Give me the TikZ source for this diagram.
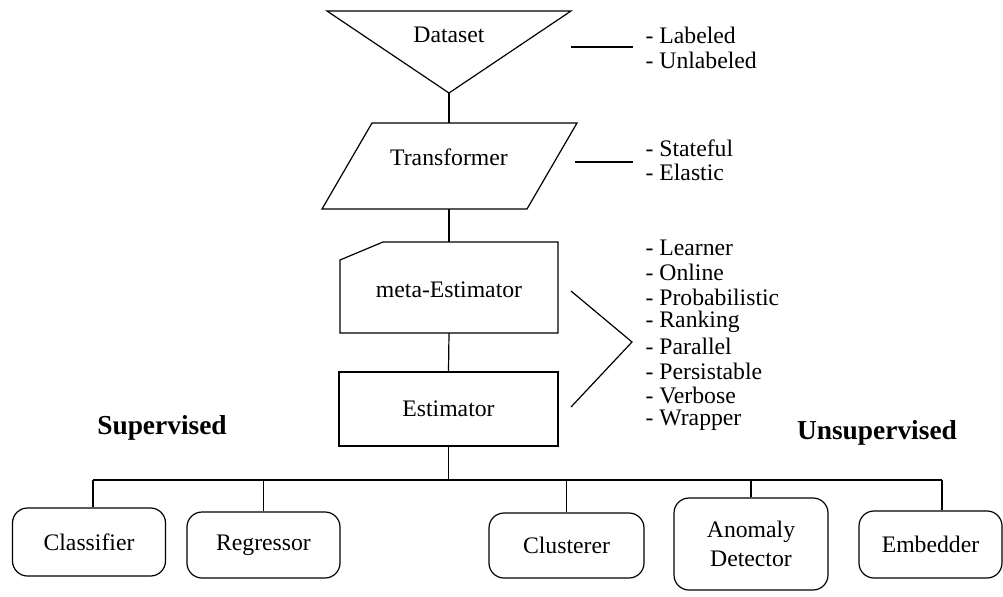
\documentclass[tikz,border=0pt]{standalone}
\usepackage{fontspec}
\setmainfont{Liberation Serif}
\usetikzlibrary{positioning}

\tikzset{
    every node/.style={font=\fontsize{11.85}{14.2}\selectfont},
    leaf/.style={draw, rounded corners=7.5pt, align=center, inner sep=0pt,
        minimum width=77pt, minimum height=33pt},
    estbox/.style={draw, inner sep=0pt, minimum width=109.5pt, minimum height=37pt},
    grouplabel/.style={font=\fontsize{13.7}{16}\selectfont\bfseries},
    item/.style={anchor=west, inner sep=0pt}
}

\begin{document}
\begin{tikzpicture}[x=0.5pt,y=-0.5pt,line width=0.6pt]
    \useasboundingbox (0,0) rectangle (1003,596);

    % dataset
    \draw (327,11) -- (571,11) -- (449,93) -- cycle;
    \coordinate (dsapex) at (449,93);
    \node (dataset) at (449,35) {Dataset};
    \coordinate (dsa) at (571,47);
    \coordinate (dsb) at (633,47);
    \draw (dsa) -- (dsb);
    \node[item] (lab) at (645,35) {- Labeled};
    \node[item] (unlab) at (645,60) {- Unlabeled};

    % transformer
    \draw (372,123) -- (577,123) -- (527,209) -- (322,209) -- cycle;
    \coordinate (trtop) at (449,123);
    \coordinate (trbot) at (449,209);
    \node (transformer) at (449,157) {Transformer};
    \coordinate (tra) at (575,162);
    \coordinate (trb) at (633,162);
    \draw (tra) -- (trb);
    \node[item] (stateful) at (645,148) {- Stateful};
    \node[item] (elastic) at (645,172) {- Elastic};
    \draw (dsapex) -- (trtop);

    % meta-estimator
    \draw (383,242) -- (558,242) -- (558,333) -- (340,333) -- (340,260) -- cycle;
    \coordinate (metatop) at (449,242);
    \coordinate (metabot) at (449,333);
    \node (meta) at (449,290) {meta-Estimator};
    \draw (trbot) -- (metatop);

    % estimator
    \node[estbox] (est) at (448.5,409) {Estimator};
    \draw (metabot) -- (est.north);

    % chevron and mixins
    \coordinate (chv1) at (571,291);
    \coordinate (chv2) at (632,342);
    \coordinate (chv3) at (571,407);
    \draw (chv1) -- (chv2) -- (chv3);
    \foreach \t [count=\i from 0] in {Learner,Online,Probabilistic,Ranking,Parallel,Persistable,Verbose,Wrapper}
        \node[item] (mix\i) at (645,248+24.6*\i) {- \t};

    % groups
    \node[grouplabel] (sup) at (162,428) {Supervised};
    \node[grouplabel] (unsup) at (877,433) {Unsupervised};

    % bus
    \coordinate (busl) at (93,480);
    \coordinate (busr) at (942,480);
    \draw (busl) -- (busr);
    \draw (est.south) -- (est.south |- busl);

    % leaves
    \node[leaf, minimum width=76.5pt, minimum height=34pt] (classifier) at (89,542) {Classifier};
    \node[leaf, minimum width=76.5pt, minimum height=33pt] (regressor) at (263.5,545) {Regressor};
    \node[leaf, minimum width=77.5pt, minimum height=32.5pt] (clusterer) at (566.5,545.5) {Clusterer};
    \node[leaf, minimum width=77pt, minimum height=46pt] (anomaly) at (751,544) {Anomaly\\Detector};
    \node[leaf, minimum width=71.5pt, minimum height=33.5pt] (embedder) at (930.5,544.5) {Embedder};

    \draw (classifier.north -| busl) -- (busl);
    \draw (regressor.north) -- (regressor.north |- busl);
    \draw (clusterer.north) -- (clusterer.north |- busl);
    \draw (anomaly.north) -- (anomaly.north |- busl);
    \draw (embedder.north -| busr) -- (busr);
\end{tikzpicture}
\end{document}
